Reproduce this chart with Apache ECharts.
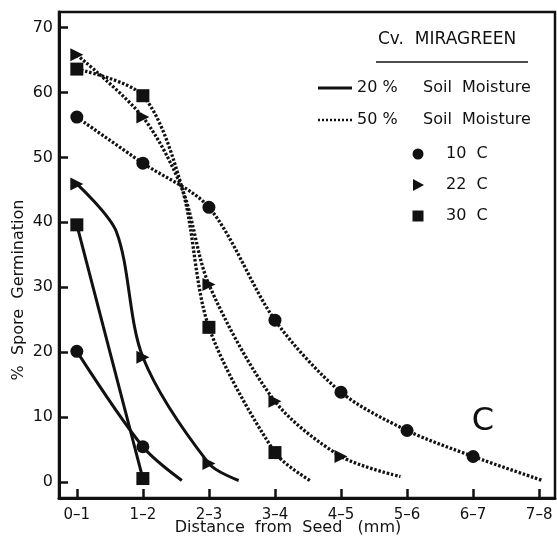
<!DOCTYPE html>
<html>
<head>
<meta charset="utf-8">
<script src="https://cdn.jsdelivr.net/npm/echarts@6/dist/echarts.min.js"></script>
<style>
  html, body { margin: 0; padding: 0; background: #fff; }
  #myChart { width: 557px; height: 539px; }
</style>
</head>
<body>
<div id="myChart"></div>
<script>
// x categories (distance from seed, mm) and y ticks
var distLabels = ['0–1', '1–2', '2–3', '3–4', '4–5', '5–6', '6–7', '7–8'];
var yTicks = [0, 10, 20, 30, 40, 50, 60, 70];

// 50 % soil moisture (dotted) - [distance index, % germination]
// points off the integer positions are curve ends / bends (no marker)
var m50_10C = [[0, 56.2], [1, 49.1], [2, 42.3], [3, 24.9], [4, 13.8], [5, 7.9], [6, 3.9], [7.05, 0.2]];
var m50_22C = [[0, 65.8], [1, 56.2], [1.6, 45], [2, 30.4], [3, 12.4], [4, 3.9], [4.9, 0.8]];
var m50_30C = [[0, 63.6], [1, 59.5], [1.6, 45], [2, 23.8], [3, 4.5], [3.53, 0.2]];

// 20 % soil moisture (solid)
var m20_10C = [[0, 20.1], [1, 5.4], [1.59, 0.2]];
var m20_22C = [[0, 45.9], [0.6, 38.5], [1, 19.2], [2, 2.8], [2.45, 0.2]];
var m20_30C = [[0, 39.6], [1, 0.5]];

var ink = '#111';
var font = 'DejaVu Sans';

function pts(arr) {
  return arr.map(function (p) {
    if (Number.isInteger(p[0])) return p;
    return { value: p, symbol: 'none' };
  });
}

function mkSeries(name, data, symbol, solid) {
  return {
    name: name,
    type: 'line',
    data: pts(data),
    smooth: 0.3,
    symbol: symbol,
    symbolSize: 13,
    symbolRotate: symbol == 'triangle' ? -90 : 0,
    showAllSymbol: true,
    itemStyle: { color: ink },
    lineStyle: {
      color: ink,
      width: solid ? 3 : 3.3,
      type: solid ? 'solid' : [2.5, 1.8],
      cap: 'butt'
    },
    z: 3
  };
}

function txt(s, x, y, size) {
  return { type: 'text', style: { text: s, x: x, y: y, font: (size || 16) + 'px "DejaVu Sans"', fill: ink, textVerticalAlign: 'middle' } };
}

var myChart = echarts.init(document.getElementById('myChart'));
myChart.setOption({
  animation: false,
  backgroundColor: '#fff',
  textStyle: { fontFamily: font },
  grid: {
    left: 59, right: 2, top: 12, bottom: 41,
    outerBoundsMode: 'none',
    containLabel: false,
    show: true, borderColor: ink, borderWidth: 2.5
  },
  xAxis: {
    type: 'value',
    min: -0.27, max: 7.24,
    name: 'Distance  from  Seed   (mm)',
    nameLocation: 'middle',
    nameMoveOverlap: false,
    nameGap: 22,
    nameTextStyle: { color: ink, fontSize: 16, fontFamily: font, padding: [0, 38, 0, 0] },
    axisLine: { onZero: false, lineStyle: { color: ink, width: 3 } },
    axisTick: { inside: true, length: 9, lineStyle: { color: ink, width: 2.5 }, customValues: [0, 1, 2, 3, 4, 5, 6, 7] },
    axisLabel: {
      customValues: [0, 1, 2, 3, 4, 5, 6, 7],
      color: ink, fontSize: 15, margin: 10,
      formatter: function (v) { return distLabels[Math.round(v)]; }
    },
    splitLine: { show: false }
  },
  yAxis: {
    type: 'value',
    min: -2.5, max: 72.4,
    name: '%  Spore  Germination',
    nameLocation: 'middle',
    nameMoveOverlap: false,
    nameGap: 32,
    nameTextStyle: { color: ink, fontSize: 16, fontFamily: font, padding: [0, 70, 0, 0] },
    axisLine: { onZero: false, lineStyle: { color: ink, width: 3 } },
    axisTick: { inside: true, length: 9, lineStyle: { color: ink, width: 2.5 }, customValues: yTicks },
    axisLabel: { customValues: yTicks, color: ink, fontSize: 16, margin: 6 },
    splitLine: { show: false }
  },
  graphic: [
    txt('Cv.  MIRAGREEN', 378, 40, 17),
    { type: 'line', shape: { x1: 376, y1: 62, x2: 528, y2: 62 }, style: { stroke: ink, lineWidth: 1.5 } },
    { type: 'line', shape: { x1: 318, y1: 88, x2: 352, y2: 88 }, style: { stroke: ink, lineWidth: 3 } },
    txt('20 %', 357, 88),
    txt('Soil  Moisture', 423, 88),
    { type: 'line', shape: { x1: 318, y1: 120, x2: 352, y2: 120 }, style: { stroke: ink, lineWidth: 2.5, lineDash: [2, 2] } },
    txt('50 %', 357, 120),
    txt('Soil  Moisture', 423, 120),
    { type: 'circle', shape: { cx: 418, cy: 154, r: 5.5 }, style: { fill: ink } },
    txt('10  C', 446, 154),
    { type: 'polygon', shape: { points: [[413, 179], [424, 185], [413, 191]] }, style: { fill: ink } },
    txt('22  C', 446, 185),
    { type: 'rect', shape: { x: 412.5, y: 210.5, width: 11, height: 11 }, style: { fill: ink } },
    txt('30  C', 446, 216),
    { type: 'text', style: { text: 'C', x: 483, y: 422, font: '32px "DejaVu Sans"', fill: ink, textAlign: 'center', textVerticalAlign: 'middle' } }
  ],
  series: [
    mkSeries('10 C 50%', m50_10C, 'circle', false),
    mkSeries('22 C 50%', m50_22C, 'triangle', false),
    mkSeries('30 C 50%', m50_30C, 'rect', false),
    mkSeries('10 C 20%', m20_10C, 'circle', true),
    mkSeries('22 C 20%', m20_22C, 'triangle', true),
    mkSeries('30 C 20%', m20_30C, 'rect', true)
  ]
});
</script>
</body>
</html>
